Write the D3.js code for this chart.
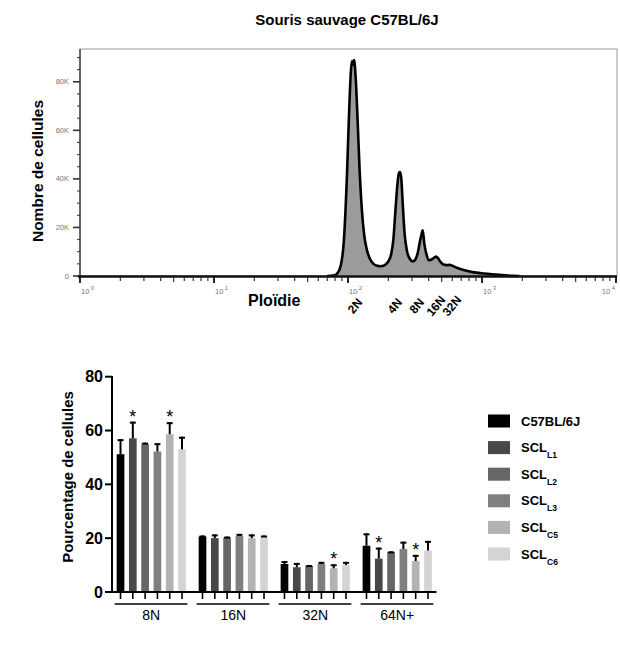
<!DOCTYPE html>
<html><head><meta charset="utf-8">
<script src="https://cdn.jsdelivr.net/npm/d3@7"></script>
<style>body{margin:0;background:#fff} svg{display:block;font-family:"Liberation Sans",Arial,sans-serif}</style>
</head><body>
<svg id="c" width="620" height="653"></svg>
<script>
// ---------- DATA: histogram (top) ----------
const histPloidy = [70,78,83,88,93,98,102,105,107,109,111,114,118,122,127,132,138,146,155,165,175,188,200,210,218,226,234,240,245,250,256,264,275,290,305,320,333,345,355,360,365,372,385,400,420,440,455,470,490,515,545,575,600,650,700,780,850,950,1050,1200,1400,1700,1900];
const histCountK = [0,0.2,1,4,14,40,68,84,88.5,87,89,82,64,44,27,17,11,7,5,4.2,4,4.5,6,9,15,27,38,42.5,42.8,40,30,18,10.5,7,6,7,10,14.5,17.5,18.8,17,13,9,6.5,6.8,7.6,8,7.3,5.8,4.7,4.5,4.6,4.2,3.4,2.8,2.1,1.6,1.3,1.0,0.7,0.35,0.05,0];
const yTicksTop = [0,20,40,60,80];
const yTickLabelsTop = ["0","20K","40K","60K","80K"];
const xDecades = [1,10,100,1000,10000];
const xDecadeExp = ["0","1","2","3","4"];
const peakLabels = ["2N","4N","8N","16N","32N"];
const peakLabelPloidy = [113,224,327,454,597];

// ---------- DATA: bar chart (bottom) ----------
const categories = ["8N","16N","32N","64N+"];
const seriesBase = ["C57BL/6J","SCL","SCL","SCL","SCL","SCL"];
const seriesSub  = ["","L1","L2","L3","C5","C6"];
const seriesKeys = ["C57BL/6J","SCL_L1","SCL_L2","SCL_L3","SCL_C5","SCL_C6"];
const valC57 = [51.2,20.6,10.4,17.2], errC57 = [5.6,0.4,1.1,4.6];
const valL1  = [57.1,20.0,9.2,12.4],  errL1  = [6.2,1.4,1.6,4.1];
const valL2  = [54.9,20.2,9.7,14.8],  errL2  = [0.6,0.4,0.3,0.3];
const valL3  = [52.2,20.8,10.4,16.0], errL3  = [3.1,0.8,0.8,2.7];
const valC5  = [58.6,20.0,8.8,11.5],  errC5  = [4.5,1.4,1.5,2.3];
const valC6  = [53.0,20.6,10.0,15.4], errC6  = [4.7,0.4,1.2,3.6];
const yTicksBottom = [0,20,40,60,80];
const starCategory = ["8N","8N","32N","64N+","64N+"];
const starSeries   = [1,4,4,1,4];
const seriesColors = ["#000000","#484848","#666666","#7f7f7f","#b3b3b3","#d4d4d4"];

const svg = d3.select("#c");

// ================= TOP CHART =================
const x1 = d3.scaleLog().domain([1,10000]).range([80,616]);
const y1 = d3.scaleLinear().domain([0,93.5]).range([276,49]);

svg.append("text").attr("x",347).attr("y",25).attr("text-anchor","middle")
  .attr("font-size",15).attr("font-weight","bold").text("Souris sauvage C57BL/6J");

// frame
svg.append("rect").attr("x",80).attr("y",49).attr("width",537).attr("height",227)
  .attr("fill","none").attr("stroke","#999").attr("stroke-width",1);

// histogram
const hist = histPloidy.map((p,i)=>({p, c:histCountK[i]}));
svg.append("path").datum(hist)
  .attr("d", d3.area().x(d=>x1(d.p)).y0(y1(0)).y1(d=>y1(d.c)).curve(d3.curveMonotoneX))
  .attr("fill","#9b9b9b");
svg.append("path").datum(hist)
  .attr("d", d3.line().x(d=>x1(d.p)).y(d=>y1(d.c)).curve(d3.curveMonotoneX))
  .attr("fill","none").attr("stroke","#000").attr("stroke-width",2.6).attr("stroke-linejoin","round");

// y axis (left)
svg.append("line").attr("x1",80).attr("x2",80).attr("y1",49).attr("y2",277)
  .attr("stroke","#444").attr("stroke-width",1.5);
const minorY = d3.range(0,95,5);
svg.selectAll(".ymin").data(minorY).enter().append("line")
  .attr("x1",d=> d%20===0 ? 73 : 77).attr("x2",80)
  .attr("y1",d=>y1(d)).attr("y2",d=>y1(d))
  .attr("stroke","#333").attr("stroke-width",d=> d%20===0?1.6:1);
svg.selectAll(".ylab").data(yTicksTop).enter().append("text")
  .attr("x",69).attr("y",d=>y1(d)+2.5).attr("text-anchor","end")
  .attr("font-size",7.5).attr("fill","#777").text((d,i)=>yTickLabelsTop[i]);

// x axis (bottom)
svg.append("line").attr("x1",78).attr("x2",617).attr("y1",276.5).attr("y2",276.5)
  .attr("stroke","#111").attr("stroke-width",2.4);
const minorX = [];
xDecades.slice(0,4).forEach(d=>{ for(let k=2;k<=9;k++) minorX.push(d*k); });
svg.selectAll(".xmin").data(minorX).enter().append("line")
  .attr("x1",d=>x1(d)).attr("x2",d=>x1(d)).attr("y1",277).attr("y2",d=> (String(d)[0]==="5")?282:281)
  .attr("stroke","#333").attr("stroke-width",1.2);
svg.selectAll(".xmaj").data(xDecades).enter().append("line")
  .attr("x1",d=>x1(d)).attr("x2",d=>x1(d)).attr("y1",277).attr("y2",283)
  .attr("stroke","#111").attr("stroke-width",1.8);
const lastIdx = xDecades.length-1;
const xl = svg.selectAll(".xlab").data(xDecades).enter().append("text")
  .attr("x",(d,i)=> i===lastIdx ? x1(d)-1 : x1(d)+1).attr("y",294)
  .attr("text-anchor",(d,i)=> i===lastIdx ? "end" : "start")
  .attr("font-size",7.5).attr("fill","#777");
xl.append("tspan").text("10");
xl.append("tspan").attr("dy",-4).attr("dx",1.5).attr("font-size",6).text((d,i)=>xDecadeExp[i]);

svg.append("text").attr("x",248).attr("y",306).attr("font-size",16).attr("font-weight","bold").text("Ploïdie");

svg.selectAll(".plab").data(peakLabels).enter().append("text")
  .attr("transform",(d,i)=>`translate(${x1(peakLabelPloidy[i])},${306}) rotate(-50)`)
  .attr("text-anchor","middle").attr("dominant-baseline","central")
  .attr("font-size",12).attr("font-weight","bold").text(d=>d);

svg.append("text").attr("transform","translate(43,171) rotate(-90)")
  .attr("text-anchor","middle").attr("font-size",15.5).attr("font-weight","bold").text("Nombre de cellules");

// ================= BOTTOM CHART =================
const seriesVals = [valC57,valL1,valL2,valL3,valC5,valC6];
const seriesErrs = [errC57,errL1,errL2,errL3,errC5,errC6];
const xg = d3.scaleBand().domain(categories).range([112,436.5]).paddingInner(0.156).paddingOuter(0.057);
const xs = d3.scaleBand().domain(d3.range(6)).range([0,xg.bandwidth()]).paddingInner(0.375).paddingOuter(0);
const y2 = d3.scaleLinear().domain([0,80]).range([592,376.7]);

const bars = [];
categories.forEach((c,ci)=>{ seriesVals.forEach((sv,si)=>{ bars.push({c,si,v:sv[ci],e:seriesErrs[si][ci]}); }); });
const cx = d=>xg(d.c)+xs(d.si)+xs.bandwidth()/2;

const gb = svg.append("g");
gb.selectAll("rect").data(bars).enter().append("rect")
  .attr("x",d=>xg(d.c)+xs(d.si)).attr("width",xs.bandwidth())
  .attr("y",d=>y2(d.v)).attr("height",d=>y2(0)-y2(d.v))
  .attr("fill",d=>seriesColors[d.si]);
// error bars
gb.selectAll(".eb").data(bars).enter().append("line")
  .attr("x1",cx).attr("x2",cx)
  .attr("y1",d=>y2(d.v)).attr("y2",d=>y2(d.v+d.e)).attr("stroke","#000").attr("stroke-width",2);
gb.selectAll(".ec").data(bars).enter().append("line")
  .attr("x1",d=>cx(d)-3).attr("x2",d=>cx(d)+3)
  .attr("y1",d=>y2(d.v+d.e)+1).attr("y2",d=>y2(d.v+d.e)+1).attr("stroke","#000").attr("stroke-width",2);

// stars
const stars = starCategory.map((c,i)=>{ const ci=categories.indexOf(c), si=starSeries[i];
  return {c,si,top:seriesVals[si][ci]+seriesErrs[si][ci]}; });
gb.selectAll(".st").data(stars).enter().append("text")
  .attr("x",cx).attr("y",d=>y2(d.top)+1)
  .attr("text-anchor","middle").attr("font-size",18).attr("fill","#000").text("*");

// axes
svg.append("line").attr("x1",112).attr("x2",112).attr("y1",376).attr("y2",593)
  .attr("stroke","#000").attr("stroke-width",2);
svg.append("line").attr("x1",111).attr("x2",436.5).attr("y1",592).attr("y2",592)
  .attr("stroke","#000").attr("stroke-width",2);
svg.selectAll(".yt2").data(yTicksBottom).enter().append("line")
  .attr("x1",105).attr("x2",112).attr("y1",d=>y2(d)).attr("y2",d=>y2(d))
  .attr("stroke","#000").attr("stroke-width",2);
svg.selectAll(".yl2").data(yTicksBottom).enter().append("text")
  .attr("x",103).attr("y",d=>y2(d)).attr("dy","0.36em").attr("text-anchor","end")
  .attr("font-size",16).attr("font-weight","bold").text(d=>d);
// bar ticks
svg.selectAll(".bt").data(bars).enter().append("line")
  .attr("x1",cx).attr("x2",cx)
  .attr("y1",592).attr("y2",599).attr("stroke","#000").attr("stroke-width",1.6);
// group lines + labels
svg.selectAll(".gl").data(categories).enter().append("line")
  .attr("x1",d=>xg(d)-2).attr("x2",d=>xg(d)+xg.bandwidth()+1.5).attr("y1",604).attr("y2",604)
  .attr("stroke","#000").attr("stroke-width",1.6);
svg.selectAll(".glab").data(categories).enter().append("text")
  .attr("x",d=>xg(d)+xg.bandwidth()/2).attr("y",620).attr("text-anchor","middle")
  .attr("font-size",14).text(d=>d);

svg.append("text").attr("transform","translate(73,477) rotate(-90)")
  .attr("text-anchor","middle").attr("font-size",15).attr("font-weight","bold").text("Pourcentage de cellules");

// legend
const ly = d3.scalePoint().domain(seriesKeys).range([421,554]);
const lg = svg.selectAll(".lg").data(seriesKeys).enter().append("g")
  .attr("transform",d=>`translate(488,${ly(d)})`);
lg.append("rect").attr("x",0).attr("y",-6.5).attr("width",22).attr("height",13)
  .attr("fill",(d,i)=>seriesColors[i]);
const lt = lg.append("text").attr("x",33).attr("y",4.5).attr("font-size",13).attr("font-weight","bold");
lt.append("tspan").text((d,i)=>seriesBase[i]);
lt.append("tspan").attr("dy",6).attr("font-size",8.5).text((d,i)=>seriesSub[i]);
</script>
</body></html>
